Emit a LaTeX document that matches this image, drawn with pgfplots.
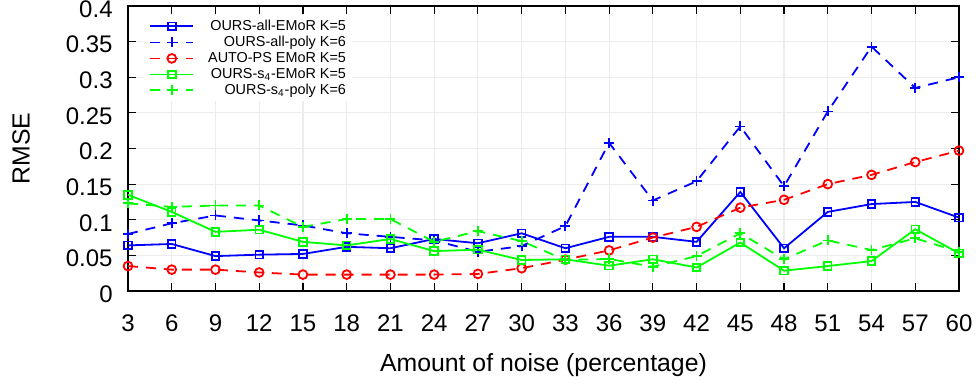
\documentclass[border=0pt]{standalone}
\usepackage{fontspec}
\setmainfont{Liberation Sans}
\usepackage{pgfplots}
\pgfplotsset{compat=1.18}

\definecolor{cblue}{rgb}{0,0,1}
\definecolor{cred}{rgb}{1,0,0}
\definecolor{cgreen}{rgb}{0,1,0}

\pgfplotsset{
  legline/.style={
    legend image code/.code={%
      \draw[mark repeat=2,mark phase=2,##1]
        plot coordinates {(0pt,0pt) (10.75pt,0pt) (21.5pt,0pt)};}},
  gdash/.style={dash pattern=on 5pt off 4pt},
}

\begin{document}
\begin{tikzpicture}
\begin{axis}[
  name=ax,
  scale only axis,
  width=415.5pt, height=142.5pt,
  xmin=3, xmax=60, ymin=0, ymax=0.4,
  xtick={3,6,...,60},
  ytick={0,0.05,0.1,0.15,0.2,0.25,0.3,0.35,0.4},
  /pgf/number format/fixed,
  /pgf/number format/precision=2,
  /pgf/number format/assume math mode=true,
  tick label style={font=\fontsize{12}{14}\selectfont},
  label style={font=\fontsize{12.4}{14}\selectfont},
  xticklabel style={anchor=base, inner sep=0pt, yshift=-20.3pt},
  yticklabel style={anchor=east, inner sep=0pt, xshift=-7.5pt, yshift=-1.5pt},
  major tick length=4pt,
  tick style={black, line width=0.6pt},
  axis line style={black, line width=1pt},
  grid=major,
  major grid style={gray!15, line width=0.6pt},
  xlabel={Amount of noise (percentage)},
  ylabel={RMSE},
  xlabel style={at={(rel axis cs:0.5,-0.2842)}, anchor=base},
  ylabel style={at={(rel axis cs:-0.1288,0.5)}, anchor=center},
  clip mode=individual,
  legend cell align=right,
  legend style={
    at={(rel axis cs:0,1)}, anchor=north west,
    xshift=7.5pt, yshift=-4.5pt,
    draw=none, fill=white,
    inner xsep=3pt, inner ysep=2pt,
    column sep=7pt, row sep=1pt,
    font=\fontsize{7.2}{8}\selectfont,
    nodes={inner sep=0pt, text height=5.5pt, text depth=1.5pt},
  },
  every axis plot/.append style={line width=0.9pt, legline},
]

% OURS-all-EMoR K=5
\addplot[cblue, mark=square, mark size=1.9pt, mark options={solid}]
  coordinates {(3,0.064) (6,0.066) (9,0.049) (12,0.051) (15,0.052)
    (18,0.062) (21,0.060) (24,0.073) (27,0.067) (30,0.081)
    (33,0.060) (36,0.076) (39,0.076) (42,0.069) (45,0.139)
    (48,0.060) (51,0.111) (54,0.122) (57,0.125) (60,0.103)};
\addlegendentry{OURS-all-EMoR K=5}

% OURS-all-poly K=6
\addplot[cblue, gdash, mark=+, mark size=2.5pt, mark options={solid}]
  coordinates {(3,0.080) (6,0.095) (9,0.106) (12,0.099) (15,0.092)
    (18,0.081) (21,0.076) (24,0.071) (27,0.055) (30,0.063)
    (33,0.091) (36,0.208) (39,0.127) (42,0.154) (45,0.231)
    (48,0.147) (51,0.252) (54,0.343) (57,0.285) (60,0.300)};
\addlegendentry{OURS-all-poly K=6}

% AUTO-PS EMoR K=5
\addplot[cred, gdash, mark=o, mark size=2.2pt, mark options={solid}]
  coordinates {(3,0.035) (6,0.030) (9,0.030) (12,0.026) (15,0.023)
    (18,0.023) (21,0.023) (24,0.023) (27,0.024) (30,0.032)
    (33,0.044) (36,0.057) (39,0.075) (42,0.090) (45,0.117)
    (48,0.128) (51,0.150) (54,0.163) (57,0.181) (60,0.197)};
\addlegendentry{AUTO-PS EMoR K=5}

% OURS-s4-EMoR K=5
\addplot[cgreen, mark=square, mark size=1.9pt, mark options={solid}]
  coordinates {(3,0.135) (6,0.111) (9,0.083) (12,0.086) (15,0.069)
    (18,0.064) (21,0.073) (24,0.056) (27,0.058) (30,0.0435)
    (33,0.0445) (36,0.0355) (39,0.0445) (42,0.033) (45,0.068)
    (48,0.0285) (51,0.035) (54,0.042) (57,0.0866) (60,0.053)};
\addlegendentry{OURS-s\textsubscript{4}-EMoR K=5}

% OURS-s4-poly K=6
\addplot[cgreen, gdash, mark=+, mark size=2.5pt, mark options={solid}]
  coordinates {(3,0.123) (6,0.118) (9,0.120) (12,0.120) (15,0.090)
    (18,0.101) (21,0.101) (24,0.069) (27,0.084) (30,0.070)
    (33,0.0435) (36,0.045) (39,0.034) (42,0.049) (45,0.081)
    (48,0.0445) (51,0.071) (54,0.0575) (57,0.074) (60,0.055)};
\addlegendentry{OURS-s\textsubscript{4}-poly K=6}

\end{axis}
\pgfresetboundingbox
\path[use as bounding box]
  ([xshift=-64pt,yshift=-47pt]ax.south west)
  rectangle ([xshift=10pt,yshift=3pt]ax.north east);
\end{tikzpicture}
\end{document}
